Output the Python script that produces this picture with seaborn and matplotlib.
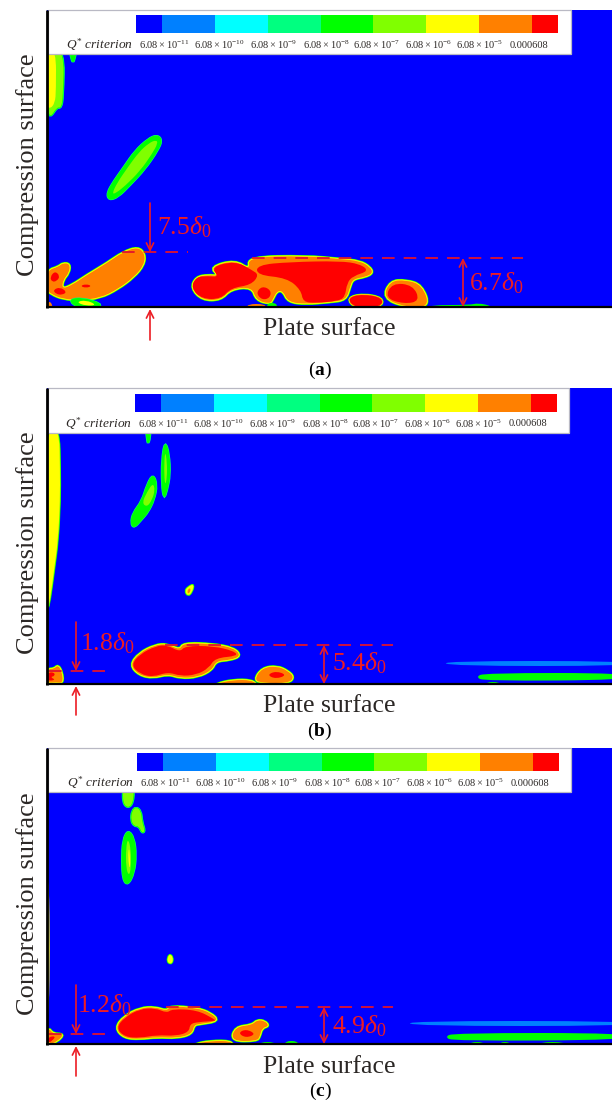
""" Q* criterion contour panels (a), (b), (c) with colour bars and separation size marks.
    All outlines are read off the picture, in picture pixels.
"""
import numpy as np
import matplotlib
matplotlib.use('Agg')
import matplotlib.pyplot as plt
import seaborn as sns
from matplotlib.colors import ListedColormap
from matplotlib.path import Path
from matplotlib.patches import PathPatch, Rectangle

# colour bar
level_colors = ['#0000ff', '#0080ff', '#00ffff', '#00ff80', '#00ff00', '#80ff00', '#ffff00', '#ff8000', '#ff0000']
bar_levels = [0, 1, 1, 2, 2, 3, 3, 4, 4, 5, 5, 6, 6, 7, 7, 8]
bar_labels = [r'$6.08\times10^{-11}$', r'$6.08\times10^{-10}$', r'$6.08\times10^{-9}$', r'$6.08\times10^{-8}$',
              r'$6.08\times10^{-7}$', r'$6.08\times10^{-6}$', r'$6.08\times10^{-5}$', '0.000608']
bar_label_x = [164, 219, 273, 326, 376, 428, 479, 529]

# panel a outlines
a_swoosh = [(46, 283), (48, 270), (58, 267), (63, 263), (70, 264), (69, 273), (63, 280), (62, 289), (72, 285), (87, 275),
            (107, 263), (123, 252), (138, 247), (145, 254), (144, 265), (134, 277), (118, 289), (100, 298), (80, 300),
            (63, 299), (51, 294), (46, 289)]
a_swoosh_red1 = [(50, 277), (55, 271), (60, 276), (57, 281), (52, 282)]
a_swoosh_red2 = [(53, 290), (60, 287), (67, 292), (62, 295), (56, 294)]
a_swoosh_red3 = [(80, 286), (86, 284), (92, 286), (86, 288)]
a_floor_oval = [(69, 300), (82, 298), (102, 304), (97, 308), (77, 307)]
a_floor_oval_in = [(76, 302), (86, 300), (97, 305), (86, 306)]
a_big = [(191, 288), (196, 277), (208, 275), (219, 276), (210, 267), (235, 260), (250, 270), (248, 257), (306, 256),
         (340, 259), (360, 261), (370, 267), (373, 273), (365, 277), (353, 279), (350, 287), (346, 300), (330, 302),
         (306, 304), (288, 302), (283, 291), (277, 291), (273, 299), (270, 304), (256, 300), (252, 287), (231, 289),
         (221, 300), (202, 300)]
a_big_red1 = [(191, 288), (196, 277), (208, 276), (219, 277), (211, 267), (235, 261), (252, 270), (259, 275), (251, 285),
              (231, 288), (221, 299), (202, 299)]
a_big_red2 = [(257, 265), (290, 262), (340, 261), (360, 264), (369, 271), (353, 276), (347, 283), (345, 297), (338, 301),
              (316, 303), (303, 302), (301, 290), (287, 278), (257, 275)]
a_big_red3 = [(256, 293), (262, 286), (271, 290), (270, 298), (262, 300)]
a_oval = [(347, 298), (363, 294), (383, 298), (381, 307), (355, 308)]
a_oval_red = [(349, 298), (363, 295), (381, 298), (379, 306), (355, 307)]
a_lump = [(383, 298), (390, 281), (406, 280), (422, 285), (430, 307), (405, 307)]
a_lump_red = [(385, 298), (392, 283), (413, 285), (420, 301), (404, 304)]
a_floor1 = [(429, 305), (470, 305), (478, 303), (492, 306), (492, 310), (429, 310)]
a_floor2 = [(247, 304), (266, 304), (266, 310), (247, 310)]
a_floor3 = [(267, 303), (277, 303), (277, 310), (267, 310)]
a_corner = [(48, 302), (51, 302), (53, 308), (48, 308)]
a_diag = [(157, 135), (162, 140), (158, 150), (145, 169), (130, 185), (118, 197), (109, 200), (107, 193), (114, 181),
          (124, 167), (135, 151), (148, 139)]
a_diag_in = [(156, 140), (158, 143), (152, 154), (140, 171), (125, 186), (116, 193), (112, 194), (117, 183), (128, 167),
             (139, 152), (149, 143)]
a_top_green = [(48, 50), (64, 50), (63, 97), (61, 108), (57, 107), (50, 118), (48, 108)]
a_top_yellow = [(46, 50), (56, 50), (56, 90), (55, 103), (50, 109), (46, 105)]
a_top_drop = [(70, 50), (76, 50), (75, 57), (73, 63), (71, 57)]

# panel b outlines
b_strip = [(46, 428), (59, 428), (60, 470), (60, 500), (58, 540), (54, 570), (50, 600), (47, 612)]
b_strip_in = [(46, 428), (57, 428), (58, 470), (58, 500), (55, 540), (51, 570), (48, 595), (46, 600)]
b_drop = [(146, 428), (150, 428), (150, 438), (148, 444), (147, 438)]
b_right = [(165, 441), (169, 454), (170, 475), (167, 490), (164, 499), (162, 485), (162, 460)]
b_right_in = [(165, 450), (167, 462), (167, 478), (165, 486), (164, 470)]
b_lower = [(153, 474), (157, 485), (154, 500), (148, 512), (142, 519), (134, 528), (131, 523), (133, 513), (142, 501),
           (147, 485)]
b_lower_in = [(153, 483), (155, 490), (152, 500), (147, 507), (142, 503), (147, 492)]
b_spot = [(194, 584), (192, 592), (188, 596), (185, 591), (188, 587)]
b_spot_in = [(189, 588), (191, 589), (189, 594), (187, 592)]
b_corner = [(47, 669), (54, 669), (58, 665), (62, 672), (63, 683), (56, 682), (47, 683)]
b_corner_red = [(47, 673), (54, 672), (55, 676), (50, 677), (56, 680), (47, 681)]
b_big = [(130, 665), (139, 653), (155, 645), (167, 644), (180, 650), (183, 643), (213, 644), (234, 648), (241, 656),
         (230, 660), (216, 661), (212, 670), (198, 677), (180, 678), (168, 674), (153, 678), (139, 675)]
b_big_red = [(131, 665), (140, 654), (156, 646), (167, 645), (180, 652), (185, 646), (213, 646), (234, 651), (238, 656),
             (215, 658), (209, 668), (196, 675), (180, 676), (168, 672), (153, 677), (140, 674)]
b_lump = [(254, 680), (262, 668), (277, 666), (288, 671), (294, 677), (289, 683), (263, 683)]
b_lump_red = [(267, 675), (276, 671), (287, 675), (276, 679)]
b_tail = [(216, 684), (232, 680), (252, 680), (258, 686), (216, 687)]
b_blue_line = [(442, 661), (630, 661), (630, 666), (450, 666)]
b_green_line = [(476, 677), (484, 673), (630, 673), (630, 680), (484, 681)]
b_floor = [(486, 682), (500, 682), (500, 687), (486, 687)]

# panel c outlines
c_top = [(123, 788), (134, 788), (133, 803), (128, 808), (123, 803)]
c_mid = [(136, 807), (141, 811), (142, 822), (145, 831), (142, 833), (139, 826), (134, 826), (131, 820), (132, 811)]
c_long = [(128, 830), (134, 838), (136, 855), (134, 873), (128, 885), (123, 880), (122, 860), (123, 840)]
c_long_in = [(128, 838), (131, 850), (131, 868), (129, 876), (126, 868), (126, 848)]
c_long_core = [(129, 846), (130, 858), (130, 871), (128, 858)]
c_spot = [(169, 954), (173, 957), (172, 964), (167, 962)]
c_edge = [(46, 880), (49, 880), (50, 950), (49, 1010), (46, 1030)]
c_corner = [(48, 1027), (53, 1034), (64, 1034), (58, 1041), (48, 1045)]
c_corner_red = [(48, 1037), (56, 1036), (52, 1041), (48, 1043)]
c_big = [(115, 1028), (124, 1016), (140, 1008), (155, 1007), (167, 1011), (170, 1006), (197, 1008), (211, 1013),
         (219, 1021), (200, 1024), (194, 1025), (192, 1034), (177, 1038), (157, 1037), (140, 1039), (124, 1038)]
c_big_red = [(116, 1028), (125, 1017), (140, 1009), (155, 1008), (167, 1013), (172, 1009), (197, 1010), (214, 1019),
             (216, 1021), (198, 1022), (190, 1024), (189, 1032), (176, 1036), (157, 1035), (140, 1038), (125, 1037)]
c_lump = [(231, 1041), (235, 1027), (252, 1025), (257, 1020), (265, 1021), (269, 1026), (262, 1028), (260, 1036),
          (257, 1041)]
c_lump_red = [(238, 1033), (246, 1029), (256, 1034), (246, 1038)]
c_tail = [(195, 1044), (210, 1041), (232, 1041), (232, 1047), (195, 1047)]
c_floor1 = [(260, 1042), (275, 1042), (275, 1047), (260, 1047)]
c_floor2 = [(285, 1041), (298, 1041), (298, 1047), (285, 1047)]
c_blue_line = [(406, 1021), (630, 1021), (630, 1026), (414, 1026)]
c_green_line = [(445, 1037), (453, 1033), (630, 1033), (630, 1040), (453, 1041)]
c_floor3 = [(470, 1042), (484, 1042), (484, 1047), (470, 1047)]
c_floor4 = [(500, 1042), (510, 1042), (510, 1047), (500, 1047)]
c_floor5 = [(540, 1042), (565, 1042), (565, 1047), (540, 1047)]

# panel frames: top, legend bottom, bottom, legend right
panel_tops = [10, 388, 748]
panel_legend_bottoms = [54, 433, 792]
panel_bottoms = [307, 684, 1044]
panel_legend_rights = [571, 569, 571]
bar_lefts = [136, 135, 137]
bar_tops = [15, 394, 753]
panel_letters = ['a', 'b', 'c']
caption_y = [370, 731, 1091]
plate_y = [329, 706, 1067]
compression_y = [165, 543, 904]

# separation sizes: text, dashed line y, dashed x from, x to, arrow x, arrow top, label x, label y
size_labels_upper = ['7.5', '1.8', '1.2']
size_labels_lower = ['6.7', '5.4', '4.9']
upper_dash_y = [252, 671, 1034]
upper_dash_x = [(122, 188), (49, 113), (49, 113)]
upper_arrow_x = [150, 76, 76]
upper_arrow_top = [203, 622, 985]
upper_label_pos = [(184, 227), (107, 643), (104, 1005)]
lower_dash_y = [258, 645, 1007]
lower_dash_x = [(252, 523), (165, 393), (166, 393)]
lower_arrow_x = [463, 324, 324]
lower_label_pos = [(496, 283), (359, 663), (359, 1026)]
bottom_arrow_x = [150, 76, 76]
bottom_arrow_from = [340, 715, 1076]

# stroke widths (points) and colours from outer band to inner band, then the fill
styles = {
    'hot': ([(2.2, '#00ff00'), (1.7, '#80ff00'), (1.1, '#ffff00')], '#ff8000'),
    'hot_red': ([(2.2, '#00ff00'), (1.6, '#ffff00'), (0.9, '#ff8000')], '#ff0000'),
    'red': ([], '#ff0000'),
    'orange': ([], '#ff8000'),
    'cold': ([(1.8, '#00ff80'), (1.0, '#00ff00')], '#00ff00'),
    'lime': ([], '#80ff00'),
    'yellow': ([], '#ffff00'),
    'warm': ([(1.6, '#00ff00'), (0.9, '#80ff00')], '#ffff00'),
    'blue': ([], '#0080ff'),
    'green': ([], '#00ff00'),
}

panel_blobs = [
    [(a_top_green, 'cold'), (a_top_green, 'lime'), (a_top_yellow, 'yellow'), (a_top_drop, 'cold'),
     (a_diag, 'cold'), (a_diag_in, 'lime'),
     (a_swoosh, 'hot'), (a_swoosh_red1, 'red'), (a_swoosh_red2, 'red'), (a_swoosh_red3, 'red'),
     (a_floor_oval, 'cold'), (a_floor_oval_in, 'yellow'),
     (a_big, 'hot'), (a_big_red1, 'red'), (a_big_red2, 'red'), (a_big_red3, 'red'),
     (a_oval, 'hot_red'), (a_oval_red, 'red'), (a_lump, 'hot'), (a_lump_red, 'red'),
     (a_floor1, 'green'), (a_floor2, 'orange'), (a_floor3, 'green'), (a_corner, 'orange')],
    [(b_strip, 'warm'), (b_strip_in, 'yellow'), (b_drop, 'cold'), (b_right, 'cold'), (b_right_in, 'lime'),
     (b_lower, 'cold'), (b_lower_in, 'lime'), (b_spot, 'warm'), (b_spot_in, 'orange'),
     (b_corner, 'hot'), (b_corner_red, 'red'),
     (b_big, 'hot'), (b_big_red, 'red'), (b_tail, 'hot'), (b_lump, 'hot'), (b_lump_red, 'red'),
     (b_blue_line, 'blue'), (b_green_line, 'green'), (b_floor, 'green')],
    [(c_top, 'cold'), (c_top, 'lime'), (c_mid, 'cold'), (c_mid, 'lime'), (c_long, 'cold'), (c_long_in, 'lime'),
     (c_long_core, 'yellow'), (c_spot, 'warm'), (c_edge, 'yellow'), (c_corner, 'hot'), (c_corner_red, 'red'),
     (c_big, 'hot'), (c_big_red, 'red'), (c_tail, 'hot'), (c_lump, 'hot'), (c_lump_red, 'red'),
     (c_floor1, 'green'), (c_floor2, 'green'),
     (c_blue_line, 'blue'), (c_green_line, 'green'), (c_floor3, 'green'), (c_floor4, 'green'), (c_floor5, 'green')],
]

W, H = 612, 1104
RED = '#ec1c24'
DASH_RED = '#e0122e'
INK = '#2b2725'

sns.set_theme(style='white')
plt.rcParams['font.family'] = ['Liberation Serif', 'DejaVu Serif']
plt.rcParams['mathtext.fontset'] = 'custom'
plt.rcParams['mathtext.rm'] = 'Liberation Serif'
plt.rcParams['mathtext.it'] = 'Liberation Serif:italic'
plt.rcParams['mathtext.bf'] = 'Liberation Serif:bold'

fig = plt.figure(figsize=(W / 100, H / 100), dpi=100)
ax = fig.add_axes([0, 0, 1, 1])
ax.set_xlim(0, W)
ax.set_ylim(H, 0)
ax.axis('off')

cmap = ListedColormap(level_colors)


def smooth_path(points):
    # closed quadratic curve through the midpoints of the outline
    pts = np.array(points, dtype=float)
    mids = (pts + np.roll(pts, -1, axis=0)) / 2
    verts = [mids[-1]]
    codes = [Path.MOVETO]
    for p, m in zip(pts, mids):
        verts += [p, m]
        codes += [Path.CURVE3, Path.CURVE3]
    return Path(verts, codes)


def draw_blob(points, style, clip):
    bands, fill = styles[style]
    path = smooth_path(points)
    for lw, color in bands:
        patch = PathPatch(path, facecolor=color, edgecolor=color, lw=lw, zorder=2)
        ax.add_patch(patch)
        patch.set_clip_path(clip)
    patch = PathPatch(path, facecolor=fill, edgecolor='none', lw=0, zorder=2)
    ax.add_patch(patch)
    patch.set_clip_path(clip)


def red_arrow(x, y_from, y_to, style='->'):
    ax.annotate('', xy=(x, y_to), xytext=(x, y_from), zorder=6,
                arrowprops=dict(arrowstyle=style, color=RED, lw=1.2, shrinkA=0, shrinkB=0, mutation_scale=13))


for i in range(3):
    top, leg_bottom, bottom = panel_tops[i], panel_legend_bottoms[i], panel_bottoms[i]
    leg_right = panel_legend_rights[i]

    clip = Rectangle((47, top), W - 47, bottom - top, transform=ax.transData)
    ax.add_patch(Rectangle((47, top), W - 47, bottom - top, facecolor='#0000ff', edgecolor='none', zorder=1))
    for points, style in panel_blobs[i]:
        draw_blob(points, style, clip)

    # legend box
    ax.add_patch(Rectangle((48, top), leg_right - 48, leg_bottom - top, facecolor='white', edgecolor='#b9b9c4',
                           lw=0.9, zorder=3))
    cax = fig.add_axes([bar_lefts[i] / W, 1 - (bar_tops[i] + 18) / H, 422 / W, 18 / H], zorder=5)
    sns.heatmap(np.array([bar_levels]), cmap=cmap, vmin=-0.5, vmax=8.5, cbar=False, xticklabels=False,
                yticklabels=False, ax=cax)
    label_y = bar_tops[i] + 30
    shift = bar_lefts[i] - 136
    for x, label in zip(bar_label_x, bar_labels):
        ax.text(x + shift, label_y, label, fontsize=7.5, color=INK, ha='center', va='center', zorder=6)
    ax.text(66 + shift, label_y, r'$Q^{*}$ criterion', fontsize=9.6, style='italic', color=INK, ha='left',
            va='center', zorder=6)

    # frame
    ax.plot([47, 47], [top, bottom + 1], color='black', lw=2, solid_capstyle='butt', zorder=5)
    ax.plot([46, W], [bottom, bottom], color='black', lw=1.6, solid_capstyle='butt', zorder=5)

    # axis names and caption
    ax.text(28, compression_y[i], 'Compression surface', fontsize=19, rotation=90, color=INK, ha='center',
            va='center')
    ax.text(329, plate_y[i], 'Plate surface', fontsize=18.5, color=INK, ha='center', va='center')
    ax.text(320, caption_y[i], r'($\mathbf{' + panel_letters[i] + '}$)', fontsize=14, color='black', ha='center',
            va='center')

    # separation size marks
    x0, x1 = upper_dash_x[i]
    ax.plot([x0, x1], [upper_dash_y[i]] * 2, color=DASH_RED, lw=1.3, dashes=(7, 5), zorder=5)
    x0, x1 = lower_dash_x[i]
    ax.plot([x0, x1], [lower_dash_y[i]] * 2, color=DASH_RED, lw=1.3, dashes=(7, 5), zorder=5)
    red_arrow(upper_arrow_x[i], upper_arrow_top[i], upper_dash_y[i])
    red_arrow(lower_arrow_x[i], lower_dash_y[i], bottom, style='<->')
    red_arrow(bottom_arrow_x[i], bottom_arrow_from[i], bottom + 2)
    ax.text(*upper_label_pos[i], size_labels_upper[i] + r'$\delta_0$', fontsize=18.5, color=RED, ha='center',
            va='center', zorder=6)
    ax.text(*lower_label_pos[i], size_labels_lower[i] + r'$\delta_0$', fontsize=18.5, color=RED, ha='center',
            va='center', zorder=6)

fig.savefig('out.png', dpi=100)
